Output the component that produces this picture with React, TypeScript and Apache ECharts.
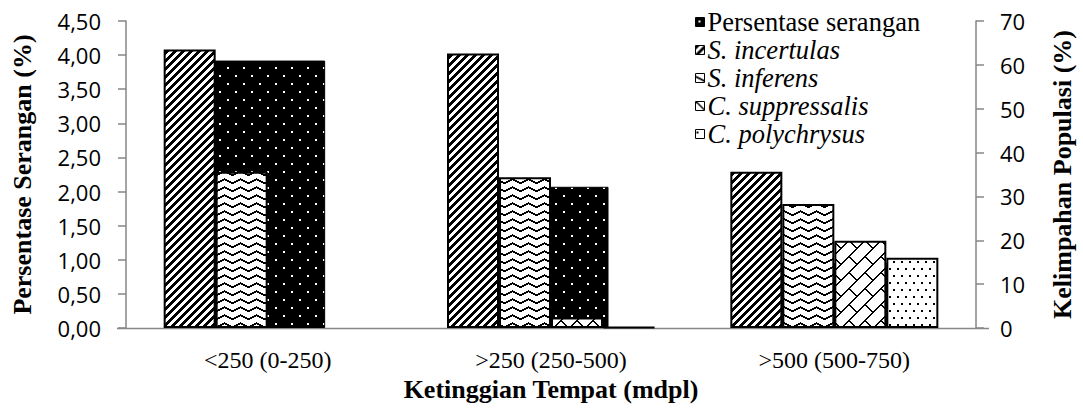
import React, { useEffect, useRef } from 'react';
import * as echarts from 'echarts';

const categories = ['<250 (0-250)', '>250 (250-500)', '>500 (500-750)'];
const seriesNames = ['Persentase serangan', 'S. incertulas', 'S. inferens', 'C. suppressalis', 'C. polychrysus'];
const persentaseSerangan = [3.92, 2.07, 0.95];
const sIncertulas = [63.5, 62.6, 35.6];
const sInferens = [35.6, 34.4, 28.3];
const cSuppressalis = [null, 2.4, 19.9];
const cPolychrysus = [null, 0.2, 16.0];
const leftAxisTitle = 'Persentase Serangan (%)';
const rightAxisTitle = 'Kelimpahan Populasi (%)';
const xAxisTitle = 'Ketinggian Tempat (mdpl)';

const serif = '"Liberation Serif", "Times New Roman", serif';
const sans = '"Open Sans", sans-serif';

function makeTile(w: number, h: number, bg: string, fg: string, on: (x: number, y: number) => boolean) {
  const c = document.createElement('canvas');
  c.width = w;
  c.height = h;
  const ctx = c.getContext('2d')!;
  ctx.fillStyle = bg;
  ctx.fillRect(0, 0, w, h);
  ctx.fillStyle = fg;
  for (let y = 0; y < h; y++) {
    for (let x = 0; x < w; x++) {
      if (on(x, y)) ctx.fillRect(x, y, 1, 1);
    }
  }
  return { image: c, repeat: 'repeat', imageWidth: w, imageHeight: h } as any;
}

function patterns() {
  const blackDots = makeTile(16, 16, '#000', '#fff', (x, y) =>
    (x >= 3 && x < 5 && y >= 3 && y < 5) || (x >= 11 && x < 13 && y >= 11 && y < 13));
  const stripes = makeTile(8, 8, '#fff', '#000', (x, y) => (x + y) % 8 < 4);
  const zigzag = makeTile(16, 8, '#fff', '#000', (x, y) => {
    const yy = Math.round(x < 8 ? 2 + x / 2 : 2 + (16 - x) / 2);
    return y === yy || y === yy + 1;
  });
  const brick = makeTile(16, 16, '#fff', '#000', (x, y) =>
    (x + y) % 16 < 2 || (((x - y + 32) % 16) < 2 && y < 8));
  const dots = makeTile(8, 14, '#fff', '#000', (x, y) =>
    (x >= 1 && x < 3 && y >= 2 && y < 4) || (x >= 5 && x < 7 && y >= 9 && y < 11));
  return [blackDots, stripes, zigzag, brick, dots];
}

export default function App() {
  const ref = useRef<HTMLDivElement>(null);
  useEffect(() => {
    if (!ref.current) return;
    const chart = echarts.init(ref.current, null, { renderer: 'svg' });
    const pats = patterns();
    const secondaryData = [sIncertulas, sInferens, cSuppressalis, cPolychrysus];
    const axisGray = '#868686';
    const titleStyle = { fontFamily: serif, fontSize: 26, fontWeight: 'bold', color: '#000' };
    const option: any = {
      animation: false,
      grid: { left: 126, right: 104, top: 21, bottom: 84 },
      legend: {
        orient: 'vertical',
        left: 695,
        top: 8.5,
        padding: 0,
        itemWidth: 9,
        itemHeight: 9,
        itemGap: 1,
        icon: 'rect',
        data: seriesNames,
        formatter: (n: string) => (n === seriesNames[0] ? n : `{i|${n}}`),
        textStyle: {
          fontFamily: serif,
          fontSize: 26.5,
          lineHeight: 26.5,
          color: '#000',
          padding: [0, 0, 0, -2],
          rich: { i: { fontFamily: serif, fontSize: 26.5, lineHeight: 26.5, fontStyle: 'italic', color: '#000' } },
        },
        itemStyle: { borderColor: '#000', borderWidth: 1 },
      },
      xAxis: [
        {
          type: 'category',
          data: categories,
          axisLine: { show: false },
          axisTick: { show: false },
          axisLabel: { margin: 20, fontFamily: serif, fontSize: 24, color: '#000' },
          name: xAxisTitle,
          nameLocation: 'middle',
          nameGap: 47,
          nameTextStyle: titleStyle,
        },
        { type: 'category', data: categories, show: false },
      ],
      yAxis: [
        {
          type: 'value',
          min: 0,
          max: 4.5,
          interval: 0.5,
          position: 'left',
          splitLine: { show: false },
          axisLine: { show: true, lineStyle: { color: axisGray, width: 1.5 } },
          axisTick: { show: true, length: 8, lineStyle: { color: axisGray, width: 1.5 } },
          axisLabel: {
            formatter: (v: number) => v.toFixed(2).replace('.', ','),
            fontFamily: sans,
            fontSize: 22,
            color: '#000',
            margin: 25,
          },
          name: leftAxisTitle,
          nameLocation: 'middle',
          nameGap: 91,
          nameRotate: 90,
          nameTextStyle: titleStyle,
        },
        {
          type: 'value',
          min: 0,
          max: 70,
          interval: 10,
          position: 'right',
          splitLine: { show: false },
          axisLine: { show: true, lineStyle: { color: axisGray, width: 1.5 } },
          axisTick: { show: true, length: 8, lineStyle: { color: axisGray, width: 1.5 } },
          axisLabel: { fontFamily: sans, fontSize: 22, color: '#000', margin: 24 },
          name: rightAxisTitle,
          nameLocation: 'middle',
          nameGap: 73,
          nameRotate: 90,
          nameTextStyle: titleStyle,
        },
      ],
      graphic: [
        {
          type: 'line',
          shape: { x1: 117, y1: 328.5, x2: 989, y2: 328.5 },
          style: { stroke: axisGray, lineWidth: 1.5 },
          z: 0,
        },
      ],
      series: [
        {
          name: seriesNames[0],
          type: 'bar',
          xAxisIndex: 1,
          yAxisIndex: 0,
          barWidth: 115,
          data: persentaseSerangan,
          z: 1,
          itemStyle: { color: pats[0], borderColor: '#000', borderWidth: 1 },
        },
        ...secondaryData.map((d, i) => ({
          name: seriesNames[i + 1],
          type: 'bar',
          xAxisIndex: 0,
          yAxisIndex: 1,
          barWidth: 52,
          barGap: '0%',
          data: d,
          z: 3,
          itemStyle: { color: pats[i + 1], borderColor: '#000', borderWidth: 2 },
        })),
      ],
    };
    chart.setOption(option);
    return () => chart.dispose();
  }, []);
  return <div ref={ref} style={{ position: 'fixed', left: 0, top: 0, width: 1083, height: 412, background: '#fff' }} />;
}
